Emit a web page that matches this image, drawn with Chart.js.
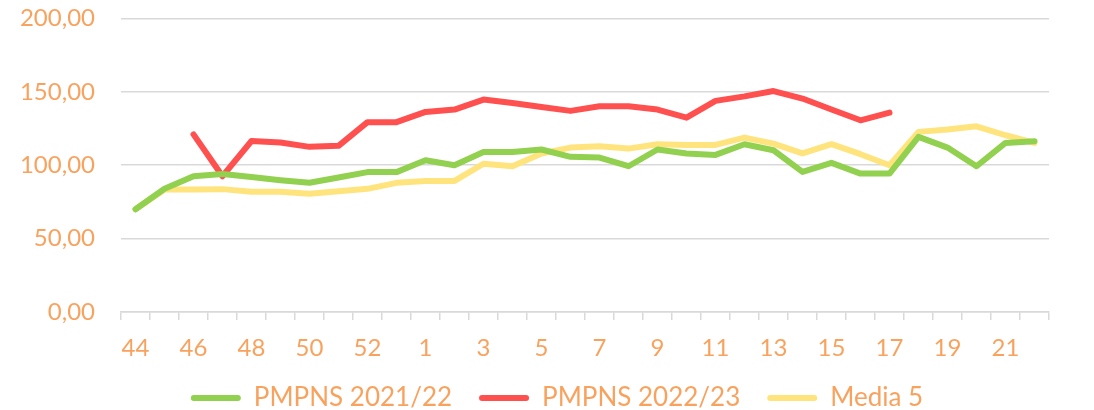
<!DOCTYPE html>
<html>
<head>
<meta charset="utf-8">
<script src="https://cdn.jsdelivr.net/npm/chart.js@4"></script>
<style>
  html, body { margin: 0; padding: 0; background: #fff; }
  #wrap { width: 1094px; height: 410px; }
</style>
</head>
<body>
<div id="wrap"><canvas id="chart"></canvas></div>
<script>
// semanas epidemiológicas
const semanas = ['44','45','46','47','48','49','50','51','52','53',
  '1','2','3','4','5','6','7','8','9','10','11','12','13','14','15','16','17','18','19','20','21','22'];

const pmpns2122 = [70, 84, 92.5, 94, 92, 89.8, 88, 91.6, 95.3, 95.3,
  103.4, 100, 109, 109, 110.7, 105.7, 105.2, 99.3, 110.7, 108, 107, 114.3,
  110.2, 95.4, 101.6, 94.3, 94.3, 119.3, 112, 99.3, 115.2, 116.3];

const pmpns2223 = [null, null, 121, 92.5, 116.5, 115.4, 112.5, 113.2, 129.3, 129.3,
  136.3, 137.9, 144.7, 142.4, 139.7, 137, 140.1, 140.1, 137.9, 132.4, 143.8, 146.9,
  150.5, 145.4, 137.9, 130.6, 135.8, null, null, null, null, null];

const media5 = [70, 83.5, 83.4, 83.7, 81.9, 81.9, 80.5, 82.3, 83.9, 88,
  89.3, 89.3, 101, 99.3, 108, 112, 112.9, 111.3, 114.3, 113.8, 113.8, 118.8,
  114.7, 108, 114.3, 107.5, 100, 122.7, 124.3, 126.5, 120.4, 115.2];

const yTicks = [0, 50, 100, 150, 200];

const naranja = '#F9A25E';
const fuente = 'Lato, "Open Sans", sans-serif';

function serie(label, data, color) {
    return {
        label: label,
        data: data,
        borderColor: color,
        backgroundColor: color,
        borderWidth: 6,
        pointRadius: 0,
        borderCapStyle: 'round',
        borderJoinStyle: 'round'
    };
}

const ctx = document.getElementById('chart').getContext('2d');
new Chart(ctx, {
    type: 'line',
    data: {
        labels: semanas,
        datasets: [
            serie('PMPNS 2021/22', pmpns2122, '#92D050'),
            serie('PMPNS 2022/23', pmpns2223, '#FF5050'),
            serie('Media 5', media5, '#FFE47E')
        ]
    },
    options: {
        responsive: true,
        maintainAspectRatio: false,
        animation: false,
        // margen derecho negativo + eje vacío a la derecha: centra la leyenda como en el original
        layout: { padding: { top: 0, right: -20, left: 0, bottom: -11 } },
        scales: {
            x: {
                offset: true,
                afterFit: axis => { axis.height = 46; },
                grid: {
                    offset: true,
                    drawOnChartArea: false,
                    color: '#D9D9D9',
                    lineWidth: 1.5,
                    tickLength: 8
                },
                border: { color: '#D9D9D9', width: 1.5 },
                ticks: {
                    autoSkip: false,
                    maxRotation: 0,
                    color: naranja,
                    font: { family: fuente, size: 24 },
                    padding: 14,
                    callback: function(val, i) { return i % 2 === 0 ? this.getLabelForValue(val) : ''; }
                }
            },
            y: {
                min: 0,
                max: 200,
                afterBuildTicks: axis => { axis.ticks = yTicks.map(v => ({ value: v })); },
                afterFit: axis => { axis.width = 121; },
                grid: { color: '#D9D9D9', lineWidth: 1.5, drawTicks: true, tickLength: 22, tickColor: 'transparent' },
                border: { display: false },
                ticks: {
                    color: naranja,
                    font: { family: fuente, size: 24 },
                    padding: 4,
                    callback: v => v.toFixed(2).replace('.', ',')
                }
            },
            margen: {
                position: 'right',
                afterFit: axis => { axis.width = 65; },
                grid: { display: false },
                border: { display: false },
                ticks: { display: false }
            }
        },
        plugins: {
            legend: {
                position: 'bottom',
                labels: {
                    color: naranja,
                    font: { family: fuente, size: 26 },
                    boxWidth: 50,
                    boxHeight: 6,
                    padding: 27,
                    useBorderRadius: true,
                    generateLabels: chart => Chart.defaults.plugins.legend.labels.generateLabels(chart)
                        .map(l => Object.assign(l, { lineWidth: 0, borderRadius: 3 }))
                }
            },
            tooltip: { enabled: false }
        }
    }
});
</script>
</body>
</html>
